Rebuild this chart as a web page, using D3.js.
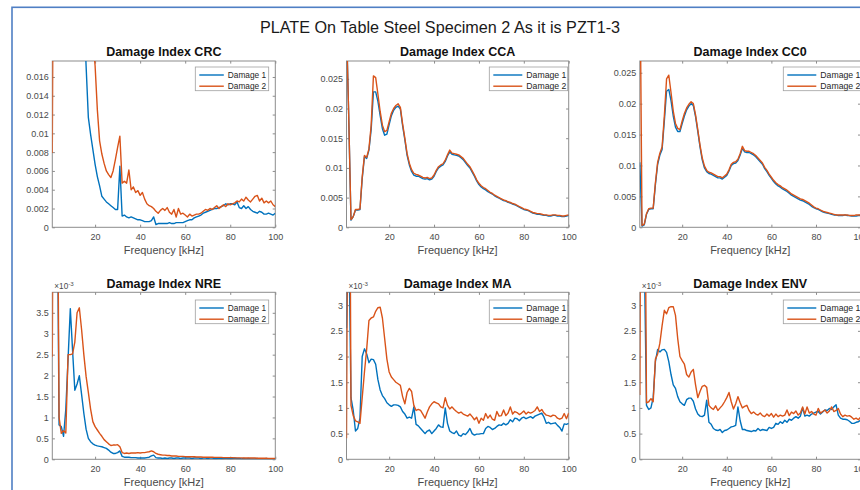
<!DOCTYPE html>
<html>
<head>
<meta charset="utf-8">
<script src="https://cdn.jsdelivr.net/npm/d3@7/dist/d3.min.js"></script>
<style>
  body { margin: 0; background: #fff; }
  svg { display: block; font-family: "Liberation Sans", Arial, Helvetica, sans-serif; }
</style>
</head>
<body>
<svg id="chart" width="860" height="490"></svg>
<script>
// ---- data -------------------------------------------------------------
const chartTitle = "PLATE On Table Steel Specimen 2 As it is PZT1-3";
const seriesNames = ["Damage 1", "Damage 2"];
const xLabel = "Frequency [kHz]";

// excitation frequency, kHz
const freq = [1,2,3,4,5,6,7,8,9,10,11,12,13,14,15,16,17,18,19,20,
  21,22,23,24,25,26,27,28,29,30,31,32,33,34,35,36,37,38,39,40,
  41,42,43,44,45,46,47,48,49,50,51,52,53,54,55,56,57,58,59,60,
  61,62,63,64,65,66,67,68,69,70,71,72,73,74,75,76,77,78,79,80,
  81,82,83,84,85,86,87,88,89,90,91,92,93,94,95,96,97,98,99,100];

const crc1 = [0.12,0.11,0.10,0.09,0.085,0.08,0.07,0.062,0.055,0.048,0.042,0.036,0.031,0.027,0.023,
  0.0172,0.0117,0.0099,0.0083,0.0067,0.0054,0.0044,0.0033,0.0030,0.0027,0.0025,0.0023,0.0021,0.0019,0.0019,
  0.0065,0.0012,0.0013,0.0011,0.0010,0.0011,0.0010,0.0009,0.0008,0.0008,0.0007,0.0006,0.0006,0.0006,0.0007,
  0.0011,0.0003,0.0004,0.0004,0.0004,0.0004,0.0004,0.0005,0.0004,0.0004,0.0005,0.0005,0.0005,0.0005,0.0006,
  0.0007,0.0008,0.0008,0.0010,0.0011,0.0012,0.0013,0.0015,0.0016,0.0017,0.0018,0.0019,0.0020,0.0020,0.0021,
  0.0022,0.0023,0.0025,0.0024,0.0025,0.0025,0.0024,0.0027,0.0021,0.0020,0.0023,0.0020,0.0022,0.0019,0.0017,
  0.0016,0.0015,0.0017,0.0016,0.0014,0.0014,0.0015,0.0014,0.0013,0.0015];
const crc2 = [0.0079,
  0.060,0.058,0.055,0.052,0.050,0.047,0.045,0.042,0.040,0.037,0.035,0.032,0.030,0.028,0.026,0.024,0.022,0.020,
  0.0172,0.0125,0.0092,0.0078,0.0068,0.0060,0.0056,0.0053,0.0060,0.0072,0.0085,
  0.0097,0.0047,0.0049,0.0047,0.0061,0.0040,0.0043,0.0037,0.0039,0.0034,0.0037,0.0030,0.0025,0.0023,0.0022,
  0.0020,0.0017,0.0015,0.0018,0.0020,0.0018,0.0021,0.0016,0.0014,0.0019,0.0011,0.0020,0.0014,0.0015,0.0013,
  0.0011,0.0014,0.0012,0.0013,0.0014,0.0014,0.0015,0.0017,0.0019,0.0018,0.0020,0.0019,0.0021,0.0023,0.0020,
  0.0022,0.0024,0.0022,0.0025,0.0024,0.0025,0.0026,0.0028,0.0027,0.0030,0.0028,0.0032,0.0029,0.0027,0.0030,
  0.0033,0.0034,0.0028,0.0031,0.0026,0.0028,0.0026,0.0028,0.0024,0.0022];

const cca1 = [0.034,0.0185,0.0012,0.0018,0.0029,0.0029,0.0030,0.0082,0.0119,0.0116,0.0130,0.0165,0.0228,0.0228,0.0212,
  0.0188,0.0166,0.0155,0.0157,0.0173,0.0188,0.0197,0.0202,0.0204,0.0199,0.0171,0.0147,0.0121,0.0105,0.0094,
  0.0088,0.0086,0.0086,0.0084,0.0082,0.0081,0.0082,0.0080,0.0081,0.0086,0.0094,0.0100,0.0103,0.0105,0.0111,
  0.0120,0.0127,0.0123,0.0122,0.0121,0.0120,0.0117,0.0114,0.0109,0.0104,0.0100,0.0093,0.0086,0.0078,0.0072,
  0.0068,0.0065,0.0063,0.0060,0.0058,0.0056,0.0053,0.0051,0.0049,0.0047,0.0045,0.0044,0.0042,0.0041,0.0039,
  0.0038,0.0036,0.0034,0.0032,0.0030,0.0029,0.0028,0.0026,0.0024,0.0023,0.0022,0.0022,0.0021,0.0020,0.0020,
  0.0019,0.0019,0.0020,0.0020,0.0019,0.0019,0.0018,0.0018,0.0019,0.0020];
const cca2 = [0.034,0.0185,0.0013,0.0018,0.0030,0.0030,0.0031,0.0085,0.0121,0.0118,0.0132,0.0172,0.0255,0.0252,0.0224,
  0.0195,0.0172,0.0161,0.0163,0.0178,0.0192,0.0200,0.0205,0.0208,0.0202,0.0174,0.0150,0.0124,0.0108,0.0097,
  0.0091,0.0089,0.0088,0.0086,0.0084,0.0083,0.0084,0.0082,0.0083,0.0088,0.0096,0.0102,0.0105,0.0107,0.0113,
  0.0122,0.0130,0.0125,0.0124,0.0123,0.0122,0.0119,0.0116,0.0111,0.0106,0.0102,0.0095,0.0088,0.0080,0.0074,
  0.0070,0.0067,0.0065,0.0062,0.0059,0.0057,0.0054,0.0052,0.0050,0.0048,0.0046,0.0045,0.0043,0.0042,0.0040,
  0.0039,0.0037,0.0035,0.0033,0.0031,0.0030,0.0029,0.0027,0.0025,0.0024,0.0023,0.0023,0.0022,0.0021,0.0021,
  0.0020,0.0020,0.0021,0.0021,0.0020,0.0020,0.0019,0.0019,0.0020,0.0021];

const cc01 = [0.0105,0.0002,0.0004,0.0021,0.0029,0.0030,0.0030,0.0069,0.0102,0.0117,0.0126,0.0172,0.0220,0.0223,0.0205,
  0.0180,0.0162,0.0155,0.0155,0.0168,0.0180,0.0190,0.0196,0.0200,0.0197,0.0179,0.0155,0.0130,0.0109,0.0096,
  0.0090,0.0087,0.0086,0.0084,0.0082,0.0080,0.0080,0.0078,0.0081,0.0084,0.0091,0.0100,0.0103,0.0104,0.0108,
  0.0117,0.0128,0.0122,0.0121,0.0121,0.0119,0.0117,0.0114,0.0110,0.0106,0.0102,0.0095,0.0090,0.0084,0.0079,
  0.0074,0.0070,0.0067,0.0065,0.0062,0.0060,0.0058,0.0055,0.0052,0.0050,0.0048,0.0046,0.0044,0.0043,0.0041,
  0.0039,0.0037,0.0034,0.0032,0.0030,0.0029,0.0027,0.0025,0.0024,0.0023,0.0022,0.0021,0.0020,0.0020,0.0019,
  0.0019,0.0019,0.0020,0.0019,0.0019,0.0018,0.0018,0.0018,0.0019,0.0019];
const cc02 = [0.045,0.0003,0.0005,0.0022,0.0030,0.0031,0.0031,0.0072,0.0105,0.0120,0.0130,0.0180,0.0240,0.0246,0.0218,
  0.0188,0.0168,0.0160,0.0158,0.0172,0.0184,0.0193,0.0199,0.0203,0.0200,0.0182,0.0158,0.0133,0.0112,0.0099,
  0.0092,0.0089,0.0088,0.0086,0.0084,0.0082,0.0082,0.0080,0.0083,0.0086,0.0093,0.0102,0.0105,0.0106,0.0110,
  0.0119,0.0131,0.0124,0.0123,0.0123,0.0121,0.0119,0.0116,0.0112,0.0108,0.0104,0.0097,0.0092,0.0086,0.0081,
  0.0076,0.0072,0.0069,0.0067,0.0064,0.0062,0.0060,0.0057,0.0054,0.0052,0.0050,0.0048,0.0046,0.0045,0.0043,
  0.0041,0.0039,0.0036,0.0033,0.0031,0.0030,0.0028,0.0026,0.0025,0.0024,0.0023,0.0022,0.0021,0.0020,0.0020,
  0.0020,0.0020,0.0020,0.0020,0.0019,0.0019,0.0019,0.0020,0.0020,0.0020];

// NRE, MA and ENV are in units of 10^-3
const nre1 = [20,15,8,0.82,0.78,0.55,1.2,2.4,3.6,2.6,1.65,1.8,2.0,1.55,1.1,
  0.72,0.5,0.42,0.37,0.34,0.32,0.31,0.30,0.28,0.26,0.22,0.17,0.14,0.14,0.16,
  0.20,0.07,0.05,0.05,0.05,0.04,0.04,0.04,0.03,0.03,0.03,0.03,0.04,0.05,0.08,
  0.10,0.04,0.03,0.03,0.02,0.03,0.02,0.03,0.03,0.02,0.03,0.03,0.02,0.03,0.03,
  0.03,0.03,0.02,0.03,0.03,0.03,0.02,0.03,0.03,0.02,0.03,0.03,0.02,0.02,0.03,
  0.02,0.02,0.03,0.02,0.02,0.02,0.03,0.02,0.02,0.01,0.02,0.01,0.02,0.01,0.01,
  0.01,0.02,0.01,0.01,0.01,0.02,0.01,0.01,0.01,0.01];
const nre2 = [2.45,15,10,1.0,0.62,0.68,0.63,2.5,2.5,2.52,2.8,3.5,3.62,3.1,2.5,
  1.98,1.6,1.2,0.9,0.78,0.7,0.62,0.55,0.47,0.42,0.37,0.33,0.34,0.34,0.35,
  0.30,0.16,0.14,0.15,0.14,0.15,0.15,0.15,0.16,0.15,0.16,0.16,0.17,0.18,0.20,
  0.18,0.14,0.12,0.11,0.10,0.10,0.09,0.09,0.08,0.08,0.08,0.07,0.07,0.07,0.065,
  0.06,0.06,0.06,0.06,0.055,0.055,0.055,0.05,0.05,0.05,0.05,0.05,0.045,0.045,0.045,
  0.045,0.04,0.04,0.04,0.04,0.04,0.035,0.035,0.035,0.035,0.03,0.03,0.03,0.03,0.03,
  0.03,0.025,0.025,0.025,0.025,0.025,0.02,0.02,0.02,0.02];

const ma1 = [2.55,4.5,1.2,0.95,0.55,0.6,0.8,2.0,2.15,2.05,1.88,1.95,1.94,1.85,1.55,
  1.35,1.24,1.18,1.1,1.06,1.03,1.06,1.06,1.05,1.02,0.93,0.88,0.8,0.82,0.8,
  1.02,0.68,0.65,0.6,0.55,0.5,0.55,0.57,0.5,0.55,0.6,0.67,0.63,0.62,1.0,
  0.7,0.55,0.52,0.5,0.55,0.47,0.45,0.5,0.48,0.53,0.6,0.5,0.47,0.49,0.49,
  0.5,0.5,0.6,0.64,0.62,0.58,0.6,0.64,0.67,0.66,0.7,0.67,0.7,0.77,0.73,
  0.8,0.79,0.75,0.8,0.82,0.79,0.81,0.83,0.8,0.84,0.86,0.88,0.9,0.82,0.7,
  0.72,0.69,0.7,0.71,0.66,0.62,0.55,0.69,0.68,0.7];
const ma2 = [0.41,10,1.05,0.85,0.75,0.73,0.7,1.2,1.7,2.15,2.7,2.75,2.77,2.88,2.95,
  2.96,2.75,2.35,1.95,1.7,1.6,1.55,1.5,1.47,1.44,1.22,1.08,1.3,1.38,1.32,
  1.05,0.95,0.97,0.95,0.88,0.8,0.92,1.02,1.08,1.12,1.1,1.08,1.02,1.0,1.2,
  1.05,0.98,1.02,0.97,0.93,0.9,0.92,0.88,0.86,0.84,0.88,0.83,0.77,0.82,0.7,
  0.8,0.76,0.89,0.8,0.86,0.78,0.76,0.93,0.84,0.85,0.96,0.85,0.9,1.02,0.88,
  0.93,0.91,0.87,0.9,0.94,0.88,0.92,0.9,0.92,0.95,1.02,0.93,0.97,0.9,0.86,
  0.85,0.83,0.86,0.85,0.8,0.78,0.8,0.89,0.79,0.9];

const env1 = [8,6,4.0,1.05,0.97,1.0,1.2,1.9,2.14,2.09,2.13,2.14,2.08,1.9,1.65,
  1.45,1.38,1.22,1.12,1.08,1.05,1.16,1.19,1.19,1.13,0.98,0.88,0.84,0.83,0.86,
  1.15,0.72,0.68,0.6,0.57,0.56,0.58,0.52,0.56,0.57,0.6,0.63,0.64,0.66,1.02,
  0.75,0.58,0.58,0.56,0.55,0.54,0.56,0.55,0.6,0.56,0.58,0.57,0.56,0.62,0.6,
  0.62,0.7,0.68,0.73,0.7,0.76,0.72,0.78,0.76,0.8,0.83,0.8,0.84,1.0,0.84,
  0.86,0.84,0.88,0.9,0.92,0.93,0.88,0.92,0.96,0.95,0.99,0.97,1.02,1.06,0.86,
  0.8,0.78,0.78,0.77,0.74,0.7,0.7,0.72,0.73,0.76];
const env2 = [1.25,12,8,1.1,1.12,1.18,1.12,1.95,2.05,2.26,2.6,2.9,2.83,2.95,2.97,
  2.97,2.8,2.35,2.0,1.92,1.85,1.65,1.6,1.7,1.75,1.45,1.2,1.32,1.42,1.44,
  1.4,1.05,1.0,0.97,1.04,0.95,1.0,1.05,1.12,1.2,1.3,1.12,0.98,1.08,1.22,
  1.1,1.0,1.03,1.05,0.95,0.89,0.92,0.88,0.86,0.9,0.85,0.83,0.88,0.84,0.89,
  0.82,0.88,0.83,0.86,0.84,0.86,0.96,0.85,0.92,0.89,0.94,0.86,0.9,1.02,0.88,
  1.02,0.9,0.93,0.88,0.86,0.99,0.9,0.93,0.96,0.9,0.94,1.02,0.93,0.95,0.99,
  0.88,0.83,0.86,0.84,0.85,0.82,0.78,0.8,0.77,0.82];

// tick labels
const xTicks = [20, 40, 60, 80, 100];
const yTicksCRC = [0, 0.002, 0.004, 0.006, 0.008, 0.01, 0.012, 0.014, 0.016];
const yTicksCC = [0, 0.005, 0.01, 0.015, 0.02, 0.025];
const yTicksNRE = [0, 0.5, 1, 1.5, 2, 2.5, 3, 3.5];
const yTicksMA = [0, 0.5, 1, 1.5, 2, 2.5, 3];

// ---- layout -----------------------------------------------------------
const panels = [
  { title: "Damage Index CRC", d1: crc1, d2: crc2, yMax: 0.0177, yTicks: yTicksCRC, exp: false, col: 0, row: 0 },
  { title: "Damage Index CCA", d1: cca1, d2: cca2, yMax: 0.028,  yTicks: yTicksCC,  exp: false, col: 1, row: 0 },
  { title: "Damage Index CC0", d1: cc01, d2: cc02, yMax: 0.0269, yTicks: yTicksCC,  exp: false, col: 2, row: 0 },
  { title: "Damage Index NRE", d1: nre1, d2: nre2, yMax: 3.99,   yTicks: yTicksNRE, exp: true,  col: 0, row: 1 },
  { title: "Damage Index MA",  d1: ma1,  d2: ma2,  yMax: 3.25,   yTicks: yTicksMA,  exp: true,  col: 1, row: 1 },
  { title: "Damage Index ENV", d1: env1, d2: env2, yMax: 3.25,   yTicks: yTicksMA,  exp: true,  col: 2, row: 1 }
];
const cols = [
  { x0: 52.3,  x1: 275.3, legX: 195.3, legW: 73.4, legFont: 8.3, legLine: 24.5 },
  { x0: 346.5, x1: 568.7, legX: 489.3, legW: 78.4, legFont: 8.7, legLine: 29 },
  { x0: 639.8, x1: 860.6, legX: 783.3, legW: 78.4, legFont: 8.7, legLine: 29 }
];
const rows = [
  { y0: 61,    y1: 227.3, legY: 67 },
  { y0: 292.3, y1: 459.3, legY: 300 }
];
const colors = ["#0072BD", "#D95319"];
const axisColor = "#8c8c8c";
const tickTextColor = "#4a4a4a";

const svg = d3.select("#chart");
svg.append("rect").attr("width", 860).attr("height", 490).attr("fill", "#fff");

// outer figure frame
svg.append("rect")
  .attr("x", 12).attr("y", 7.3).attr("width", 900).attr("height", 600)
  .attr("fill", "none").attr("stroke", "#4f7fc4").attr("stroke-width", 1.6);

svg.append("text")
  .attr("x", 440).attr("y", 33.2)
  .attr("text-anchor", "middle")
  .attr("font-size", 16.2).attr("fill", "#1a1a1a")
  .text(chartTitle);

const fmt = d3.format("~g");

panels.forEach((p, i) => {
  const c = cols[p.col], r = rows[p.row];
  const x = d3.scaleLinear().domain([1, 100]).range([c.x0, c.x1]);
  const y = d3.scaleLinear().domain([0, p.yMax]).range([r.y1, r.y0]);
  const g = svg.append("g");

  g.append("clipPath").attr("id", "clip" + i)
    .append("rect").attr("x", c.x0).attr("y", r.y0)
    .attr("width", c.x1 - c.x0).attr("height", r.y1 - r.y0);

  // axes box
  g.append("rect")
    .attr("x", c.x0).attr("y", r.y0).attr("width", c.x1 - c.x0).attr("height", r.y1 - r.y0)
    .attr("fill", "#fff").attr("stroke", axisColor).attr("stroke-width", 1);

  const tick = 2.6;
  const styleAxis = sel => {
    sel.select(".domain").remove();
    sel.selectAll(".tick line").attr("stroke", axisColor);
    sel.selectAll(".tick text").attr("fill", tickTextColor).attr("font-size", 9)
      .attr("font-family", "Liberation Sans, Arial, sans-serif");
  };
  g.append("g").attr("transform", `translate(0,${r.y1})`)
    .call(d3.axisBottom(x).tickValues(xTicks).tickSizeInner(-tick).tickSizeOuter(0).tickPadding(6.8).tickFormat(fmt))
    .call(styleAxis);
  g.append("g").attr("transform", `translate(0,${r.y0})`)
    .call(d3.axisTop(x).tickValues(xTicks).tickSizeInner(-tick).tickSizeOuter(0).tickFormat(""))
    .call(styleAxis);
  g.append("g").attr("transform", `translate(${c.x0},0)`)
    .call(d3.axisLeft(y).tickValues(p.yTicks).tickSizeInner(-tick).tickSizeOuter(0).tickPadding(3.6).tickFormat(fmt))
    .call(styleAxis);
  g.append("g").attr("transform", `translate(${c.x1},0)`)
    .call(d3.axisRight(y).tickValues(p.yTicks).tickSizeInner(-tick).tickSizeOuter(0).tickFormat(""))
    .call(styleAxis);

  // exponent label for the 10^-3 panels
  if (p.exp) {
    const t = g.append("text").attr("x", c.x0 + 2).attr("y", r.y0 - 3.2)
      .attr("font-size", 8.2).attr("fill", tickTextColor);
    t.append("tspan").text("\u00d710");
    t.append("tspan").attr("dy", -3).attr("font-size", 6.2).text("-3");
  }

  // data lines
  const line = d3.line().x((d, k) => x(freq[k])).y(d => y(d));
  const plot = g.append("g").attr("clip-path", `url(#clip${i})`);
  [p.d1, p.d2].forEach((vals, s) => {
    plot.append("path").datum(vals)
      .attr("d", line)
      .attr("fill", "none").attr("stroke", colors[s])
      .attr("stroke-width", 1.4).attr("stroke-linejoin", "round");
  });

  // panel title and x label
  g.append("text").attr("x", (c.x0 + c.x1) / 2).attr("y", r.y0 - 4.8)
    .attr("text-anchor", "middle").attr("font-size", 12.5).attr("font-weight", "bold")
    .attr("fill", "#111").text(p.title);
  g.append("text").attr("x", (c.x0 + c.x1) / 2).attr("y", r.y1 + 26.5)
    .attr("text-anchor", "middle").attr("font-size", 11).attr("fill", tickTextColor)
    .text(xLabel);

  // legend
  const lg = g.append("g").attr("transform", `translate(${c.legX},${r.legY})`);
  lg.append("rect").attr("width", c.legW).attr("height", 23.7)
    .attr("fill", "#fff").attr("stroke", "#a0a0a0").attr("stroke-width", 0.8);
  seriesNames.forEach((name, s) => {
    const yy = 8 + s * 11.2;
    lg.append("line").attr("x1", 4).attr("x2", 4 + c.legLine).attr("y1", yy).attr("y2", yy)
      .attr("stroke", colors[s]).attr("stroke-width", 1.4);
    lg.append("text").attr("x", c.legLine + 8).attr("y", yy).attr("dy", "0.35em")
      .attr("font-size", c.legFont).attr("fill", "#262626").text(name);
  });
});
</script>
</body>
</html>
